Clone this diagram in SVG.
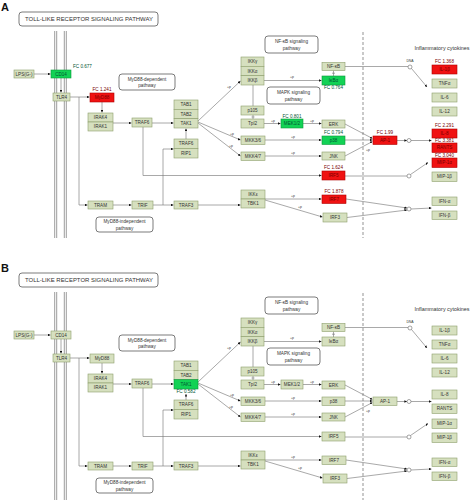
<svg xmlns="http://www.w3.org/2000/svg" width="474" height="500" viewBox="0 0 474 500">
<defs>
<style>
text{font-family:"Liberation Sans",Arial,sans-serif;fill:#333;text-anchor:middle}
.n rect,.g rect,.r rect{stroke-width:0.6}
.n rect{fill:#d6e0bf;stroke:#8c9e6c}
.g rect{fill:#12d255;stroke:#0a9a3a}
.r rect{fill:#f01212;stroke:#b00000}
.n text,.g text,.r text{font-size:4.6px}
.r text{fill:#700}
.g text{fill:#053}
.fc{font-size:3.2px;fill:#222}
.lb rect{fill:#fff;stroke:#444;stroke-width:0.7}
.lb text{font-size:4.7px;fill:#333}
.ttl{font-size:5.7px;fill:#333}
.c line,.c path,.c polyline{stroke:#7a7a7a;stroke-width:0.65;fill:none}
.c circle{fill:#fff;stroke:#666;stroke-width:0.6}
.a{marker-end:url(#ah)}
.p{font-size:3.4px;fill:#333}
.mem line{stroke:#8a8a8a;stroke-width:0.85}
.dash{stroke:#666;stroke-width:0.7;stroke-dasharray:3 2}
.pl{font-size:11px;font-weight:bold;fill:#111;text-anchor:start}
</style>
<marker id="ah" viewBox="0 0 6 6" refX="6" refY="3" markerWidth="2.6" markerHeight="2.6" orient="auto" markerUnits="userSpaceOnUse"><path d="M0,0 L6,3 L0,6z" fill="#111"/></marker>
</defs>
<rect width="474" height="500" fill="#fff"/>

<!-- ================= PANEL A ================= -->
<g id="panelA">
<text class="pl" x="1" y="11">A</text>
<g class="mem"><line x1="54.7" y1="31" x2="54.7" y2="238"/><line x1="56.7" y1="31" x2="56.7" y2="238"/><line x1="64.3" y1="31" x2="64.3" y2="238"/><line x1="66.3" y1="31" x2="66.3" y2="238"/></g>
<line class="dash" x1="363" y1="32" x2="363" y2="238"/>
<text x="442" y="50" style="font-size:5.4px">Inflammatory cytokines</text>

<g class="c" id="A-connectors">
<line class="a" x1="34" y1="74" x2="50.5" y2="74"/>
<line class="a" x1="61" y1="78" x2="61" y2="92.5"/>
<line class="a" x1="70" y1="97" x2="89.5" y2="97"/>
<path class="a" d="M79,97 V205 H87.5"/>
<line class="a" x1="102" y1="102" x2="102" y2="112.5"/>
<line class="a" x1="113" y1="123" x2="131.5" y2="123"/>
<line class="a" x1="152" y1="123" x2="173.5" y2="123"/>
<path class="a" d="M143,127 V175.5 H321.5"/>
<line class="a" x1="113" y1="205" x2="131.5" y2="205"/>
<line class="a" x1="153" y1="205" x2="173.5" y2="205"/>
<path class="a" d="M163,205 V149 H173.5"/>
<line class="a" x1="186" y1="139" x2="186" y2="128.5"/>
<line class="a" x1="198" y1="121" x2="240.5" y2="81"/>
<line class="a" x1="198" y1="122" x2="240.5" y2="140"/>
<line class="a" x1="198" y1="123" x2="240.5" y2="156"/>
<line class="a" x1="198" y1="205" x2="240.5" y2="205"/>
<line class="a" x1="264" y1="80.5" x2="321.5" y2="80.5"/>
<line x1="253" y1="85" x2="253" y2="106"/>
<line x1="253" y1="115" x2="253" y2="119"/><line x1="251.5" y1="117" x2="254.5" y2="117"/>
<line class="a" x1="264" y1="123.5" x2="280.5" y2="123.5"/>
<line class="a" x1="303" y1="123.5" x2="321.5" y2="123.5"/>
<line class="a" x1="265" y1="140" x2="321.5" y2="140"/>
<line class="a" x1="265" y1="156" x2="321.5" y2="156"/>
<line class="a" x1="265" y1="199" x2="321.5" y2="199"/>
<line class="a" x1="265" y1="200" x2="322.5" y2="217"/>
<line x1="333.5" y1="70.5" x2="333.5" y2="76"/><line x1="332" y1="73.2" x2="335" y2="73.2"/>
<line x1="345" y1="66.5" x2="408" y2="66.5"/>
<circle cx="410" cy="67" r="2"/>
<line class="a" x1="411.5" y1="68.5" x2="427" y2="87"/>
<line class="a" x1="345" y1="124" x2="372.5" y2="138.5"/>
<line class="a" x1="345" y1="140" x2="372.5" y2="140"/>
<line class="a" x1="345" y1="156" x2="372.5" y2="141.5"/>
<line class="a" x1="397" y1="140.5" x2="407" y2="140.5"/>
<circle cx="409" cy="140.5" r="2"/>
<line class="a" x1="411" y1="140.5" x2="431.5" y2="140.5"/>
<line x1="345" y1="176" x2="407" y2="176"/>
<circle cx="409" cy="176" r="2"/>
<line class="a" x1="410.5" y1="174.5" x2="428" y2="162.5"/>
<line class="a" x1="346" y1="199" x2="407" y2="208"/>
<line class="a" x1="347" y1="217.5" x2="407" y2="210"/>
<circle cx="409" cy="209" r="2"/>
<line class="a" x1="411" y1="209" x2="431.5" y2="208"/>
</g>
<g id="A-plabels">
<text class="p" x="229" y="88">+p</text>
<text class="p" x="232" y="135">+p</text>
<text class="p" x="231" y="147">+p</text>
<text class="p" x="292" y="78">+p</text>
<text class="p" x="273" y="122">+p</text>
<text class="p" x="312" y="122">+p</text>
<text class="p" x="293" y="138">+p</text>
<text class="p" x="293" y="154">+p</text>
<text class="p" x="293" y="197">+p</text>
<text class="p" x="300" y="208">+p</text>
<text class="p" x="368" y="151">+p</text>
<text class="p" x="410" y="62">DNA</text>
</g>

<g id="A-title" class="lb"><rect x="19" y="12" width="139" height="14" rx="3"/><text class="ttl" x="89" y="21" textLength="128" lengthAdjust="spacingAndGlyphs">TOLL-LIKE RECEPTOR SIGNALING PATHWAY</text></g>
<g id="A-myd88dep" class="lb"><rect x="119" y="74" width="56" height="16" rx="3"/><text x="147" y="81">MyD88-dependent</text><text x="147" y="87.3">pathway</text></g>
<g id="A-nfkbpw" class="lb"><rect x="265" y="36" width="53" height="17" rx="3"/><text x="291.5" y="43.3">NF-κB signaling</text><text x="291.5" y="49.6">pathway</text></g>
<g id="A-mapkpw" class="lb"><rect x="267" y="87" width="53" height="17" rx="3"/><text x="293.5" y="94.3">MAPK signaling</text><text x="293.5" y="100.6">pathway</text></g>
<g id="A-myd88indep" class="lb"><rect x="96" y="217" width="57" height="15" rx="3"/><text x="124.5" y="223.4">MyD88-independent</text><text x="124.5" y="229.6">pathway</text></g>

<g id="A-LPS" class="n"><rect x="14" y="70" width="20" height="8"/><text x="24" y="75.6">LPS(G-)</text></g>
<g id="A-CD14" class="g"><rect x="51" y="70" width="20" height="8"/><text x="61" y="75.6">CD14</text><text class="fc" x="73" y="68" style="text-anchor:start">FC 0.677</text></g>
<g id="A-TLR4" class="n"><rect x="53" y="93" width="17" height="8"/><text x="61.5" y="98.6">TLR4</text></g>
<g id="A-MyD88" class="r"><rect x="90" y="93" width="24" height="9"/><text x="102" y="99.1">MyD88</text><text class="fc" x="102" y="91">FC 1.241</text></g>
<g id="A-IRAK" class="n"><rect x="88" y="113" width="25" height="9"/><rect x="88" y="122" width="25" height="9"/><text x="100.5" y="119.1">IRAK4</text><text x="100.5" y="128.1">IRAK1</text></g>
<g id="A-TRAF6" class="n"><rect x="132" y="118" width="20" height="9"/><text x="142" y="124.1">TRAF6</text></g>
<g id="A-TAK" class="n"><rect x="174" y="100" width="24" height="9.3"/><rect x="174" y="109.3" width="24" height="9.3"/><rect x="174" y="118.6" width="24" height="9.4"/><text x="186" y="106.3">TAB1</text><text x="186" y="115.6">TAB2</text><text x="186" y="124.9">TAK1</text></g>
<g id="A-TRAF6RIP1" class="n"><rect x="174" y="139" width="24" height="9.5"/><rect x="174" y="148.5" width="24" height="9.5"/><text x="186" y="145.4">TRAF6</text><text x="186" y="154.9">RIP1</text></g>
<g id="A-TRAM" class="n"><rect x="88" y="201" width="25" height="8"/><text x="100.5" y="206.6">TRAM</text></g>
<g id="A-TRIF" class="n"><rect x="132" y="201" width="21" height="8"/><text x="142.5" y="206.6">TRIF</text></g>
<g id="A-TRAF3" class="n"><rect x="174" y="201" width="24" height="8"/><text x="186" y="206.6">TRAF3</text></g>
<g id="A-IKK" class="n"><rect x="241" y="57" width="23" height="9.3"/><rect x="241" y="66.3" width="23" height="9.3"/><rect x="241" y="75.6" width="23" height="9.4"/><text x="252.5" y="63.3">IKKγ</text><text x="252.5" y="72.6">IKKα</text><text x="252.5" y="81.9">IKKβ</text></g>
<g id="A-p105" class="n"><rect x="241" y="106" width="23" height="9"/><text x="252.5" y="112.1">p105</text></g>
<g id="A-Tpl2" class="n"><rect x="241" y="119" width="23" height="9"/><text x="252.5" y="125.1">Tpl2</text></g>
<g id="A-MEK12" class="g"><rect x="281" y="119" width="22" height="9"/><text x="292" y="125.1">MEK1/2</text><text class="fc" x="292" y="117.5">FC 0.801</text></g>
<g id="A-MKK36" class="n"><rect x="241" y="136" width="24" height="8.5"/><text x="253" y="141.9">MKK3/6</text></g>
<g id="A-MKK47" class="n"><rect x="241" y="152" width="24" height="8.5"/><text x="253" y="157.9">MKK4/7</text></g>
<g id="A-IKKe" class="n"><rect x="241" y="190" width="24" height="9"/><rect x="241" y="199" width="24" height="9"/><text x="253" y="196.1">IKKε</text><text x="253" y="205.1">TBK1</text></g>
<g id="A-NFkB" class="n"><rect x="322" y="62.5" width="23" height="8"/><text x="333.5" y="68.1">NF-κB</text></g>
<g id="A-IkBa" class="g"><rect x="322" y="76" width="23" height="9"/><text x="333.5" y="82.1">IκBα</text><text class="fc" x="333.5" y="89">FC 0.764</text></g>
<g id="A-ERK" class="n"><rect x="322" y="120" width="23" height="8"/><text x="333.5" y="125.6">ERK</text></g>
<g id="A-p38" class="g"><rect x="322" y="136" width="23" height="8.5"/><text x="333.5" y="141.9">p38</text><text class="fc" x="333.5" y="134.2">FC 0.794</text></g>
<g id="A-JNK" class="n"><rect x="322" y="152" width="23" height="8"/><text x="333.5" y="157.6">JNK</text></g>
<g id="A-AP1" class="r"><rect x="373" y="136" width="24" height="8.5"/><text x="385" y="141.9">AP-1</text><text class="fc" x="385" y="134.2">FC 1.99</text></g>
<g id="A-IRF5" class="r"><rect x="322" y="171" width="23" height="9"/><text x="333.5" y="177.1">IRF5</text><text class="fc" x="333.5" y="169.2">FC 1.624</text></g>
<g id="A-IRF7" class="r"><rect x="322" y="195" width="24" height="8.5"/><text x="334" y="200.9">IRF7</text><text class="fc" x="334" y="193.2">FC 1.878</text></g>
<g id="A-IRF3" class="n"><rect x="323" y="213" width="24" height="9"/><text x="335" y="219.1">IRF3</text></g>
<g id="A-IL1b" class="r"><rect x="432" y="65" width="25" height="9"/><text x="444.5" y="71.1">IL-1β</text><text class="fc" x="444.5" y="63.3">FC 1.368</text></g>
<g id="A-TNFa" class="n"><rect x="432" y="79" width="25" height="9"/><text x="444.5" y="85.1">TNFα</text></g>
<g id="A-IL6" class="n"><rect x="432" y="93" width="25" height="9"/><text x="444.5" y="99.1">IL-6</text></g>
<g id="A-IL12" class="n"><rect x="432" y="107" width="25" height="9"/><text x="444.5" y="113.1">IL-12</text></g>
<g id="A-IL8" class="r"><rect x="432" y="129" width="25" height="9"/><text x="444.5" y="135.1">IL-8</text><text class="fc" x="444.5" y="127.3">FC 2.291</text></g>
<g id="A-RANTS" class="r"><rect x="432" y="143" width="25" height="9.5"/><text x="444.5" y="149.4">RANTS</text><text class="fc" x="444.5" y="141.6">FC 3.381</text></g>
<g id="A-MIP1a" class="r"><rect x="432" y="158" width="25" height="9.5"/><text x="444.5" y="164.4">MIP-1α</text><text class="fc" x="444.5" y="156.6">FC 3.040</text></g>
<g id="A-MIP1b" class="n"><rect x="432" y="172" width="25" height="9.5"/><text x="444.5" y="178.4">MIP-1β</text></g>
<g id="A-IFNa" class="n"><rect x="432" y="197" width="25" height="8.5"/><text x="444.5" y="202.9">IFN-α</text></g>
<g id="A-IFNb" class="n"><rect x="432" y="211" width="25" height="8.5"/><text x="444.5" y="216.9">IFN-β</text></g>
</g>

<!-- ================= PANEL B ================= -->
<g id="panelB" transform="translate(0,261)">
<text class="pl" x="1" y="11">B</text>
<g class="mem"><line x1="54.7" y1="31" x2="54.7" y2="239"/><line x1="56.7" y1="31" x2="56.7" y2="239"/><line x1="64.3" y1="31" x2="64.3" y2="239"/><line x1="66.3" y1="31" x2="66.3" y2="239"/></g>
<line class="dash" x1="363" y1="32" x2="363" y2="239"/>
<text x="442" y="50" style="font-size:5.4px">Inflammatory cytokines</text>

<g class="c" id="B-connectors">
<line class="a" x1="34" y1="74" x2="50.5" y2="74"/>
<line class="a" x1="61" y1="78" x2="61" y2="92.5"/>
<line class="a" x1="70" y1="97" x2="89.5" y2="97"/>
<path class="a" d="M79,97 V205 H87.5"/>
<line class="a" x1="102" y1="102" x2="102" y2="112.5"/>
<line class="a" x1="113" y1="123" x2="131.5" y2="123"/>
<line class="a" x1="152" y1="123" x2="173.5" y2="123"/>
<path class="a" d="M143,127 V175.5 H321.5"/>
<line class="a" x1="113" y1="205" x2="131.5" y2="205"/>
<line class="a" x1="153" y1="205" x2="173.5" y2="205"/>
<path class="a" d="M163,205 V149 H173.5"/>
<line class="a" x1="186" y1="139" x2="186" y2="133"/>
<line class="a" x1="198" y1="121" x2="240.5" y2="81"/>
<line class="a" x1="198" y1="122" x2="240.5" y2="140"/>
<line class="a" x1="198" y1="123" x2="240.5" y2="156"/>
<line class="a" x1="198" y1="205" x2="240.5" y2="205"/>
<line class="a" x1="264" y1="80.5" x2="321.5" y2="80.5"/>
<line x1="253" y1="85" x2="253" y2="106"/>
<line x1="253" y1="115" x2="253" y2="119"/><line x1="251.5" y1="117" x2="254.5" y2="117"/>
<line class="a" x1="264" y1="123.5" x2="280.5" y2="123.5"/>
<line class="a" x1="303" y1="123.5" x2="321.5" y2="123.5"/>
<line class="a" x1="265" y1="140" x2="321.5" y2="140"/>
<line class="a" x1="265" y1="156" x2="321.5" y2="156"/>
<line class="a" x1="265" y1="199" x2="321.5" y2="199"/>
<line class="a" x1="265" y1="200" x2="322.5" y2="217"/>
<line x1="333.5" y1="70.5" x2="333.5" y2="76"/><line x1="332" y1="73.2" x2="335" y2="73.2"/>
<line x1="345" y1="66.5" x2="408" y2="66.5"/>
<circle cx="410" cy="67" r="2"/>
<line class="a" x1="411.5" y1="68.5" x2="427" y2="87"/>
<line class="a" x1="345" y1="124" x2="372.5" y2="138.5"/>
<line class="a" x1="345" y1="140" x2="372.5" y2="140"/>
<line class="a" x1="345" y1="156" x2="372.5" y2="141.5"/>
<line class="a" x1="397" y1="140.5" x2="407" y2="140.5"/>
<circle cx="409" cy="140.5" r="2"/>
<line class="a" x1="411" y1="140.5" x2="431.5" y2="140.5"/>
<line x1="345" y1="176" x2="407" y2="176"/>
<circle cx="409" cy="176" r="2"/>
<line class="a" x1="410.5" y1="174.5" x2="428" y2="162.5"/>
<line class="a" x1="346" y1="199" x2="407" y2="208"/>
<line class="a" x1="347" y1="217.5" x2="407" y2="210"/>
<circle cx="409" cy="209" r="2"/>
<line class="a" x1="411" y1="209" x2="431.5" y2="208"/>
</g>
<g id="B-plabels">
<text class="p" x="229" y="88">+p</text>
<text class="p" x="232" y="135">+p</text>
<text class="p" x="231" y="147">+p</text>
<text class="p" x="292" y="78">+p</text>
<text class="p" x="273" y="122">+p</text>
<text class="p" x="312" y="122">+p</text>
<text class="p" x="293" y="138">+p</text>
<text class="p" x="293" y="154">+p</text>
<text class="p" x="293" y="197">+p</text>
<text class="p" x="300" y="208">+p</text>
<text class="p" x="368" y="151">+p</text>
<text class="p" x="410" y="62">DNA</text>
</g>

<g id="B-title" class="lb"><rect x="19" y="12" width="139" height="14" rx="3"/><text class="ttl" x="89" y="21" textLength="128" lengthAdjust="spacingAndGlyphs">TOLL-LIKE RECEPTOR SIGNALING PATHWAY</text></g>
<g id="B-myd88dep" class="lb"><rect x="119" y="74" width="56" height="16" rx="3"/><text x="147" y="81">MyD88-dependent</text><text x="147" y="87.3">pathway</text></g>
<g id="B-nfkbpw" class="lb"><rect x="265" y="36" width="53" height="17" rx="3"/><text x="291.5" y="43.3">NF-κB signaling</text><text x="291.5" y="49.6">pathway</text></g>
<g id="B-mapkpw" class="lb"><rect x="267" y="87" width="53" height="17" rx="3"/><text x="293.5" y="94.3">MAPK signaling</text><text x="293.5" y="100.6">pathway</text></g>
<g id="B-myd88indep" class="lb"><rect x="96" y="217" width="57" height="15" rx="3"/><text x="124.5" y="223.4">MyD88-independent</text><text x="124.5" y="229.6">pathway</text></g>

<g id="B-LPS" class="n"><rect x="14" y="70" width="20" height="8"/><text x="24" y="75.6">LPS(G-)</text></g>
<g id="B-CD14" class="n"><rect x="51" y="70" width="20" height="8"/><text x="61" y="75.6">CD14</text></g>
<g id="B-TLR4" class="n"><rect x="53" y="93" width="17" height="8"/><text x="61.5" y="98.6">TLR4</text></g>
<g id="B-MyD88" class="n"><rect x="90" y="93" width="24" height="9"/><text x="102" y="99.1">MyD88</text></g>
<g id="B-IRAK" class="n"><rect x="88" y="113" width="25" height="9"/><rect x="88" y="122" width="25" height="9"/><text x="100.5" y="119.1">IRAK4</text><text x="100.5" y="128.1">IRAK1</text></g>
<g id="B-TRAF6" class="n"><rect x="132" y="118" width="20" height="9"/><text x="142" y="124.1">TRAF6</text></g>
<g id="B-TAB" class="n"><rect x="174" y="100" width="24" height="9.3"/><rect x="174" y="109.3" width="24" height="9.3"/><text x="186" y="106.3">TAB1</text><text x="186" y="115.6">TAB2</text></g>
<g id="B-TAK1" class="g"><rect x="174" y="118.6" width="24" height="9.4"/><text x="186" y="124.9">TAK1</text><text class="fc" x="186" y="131.5">FC 0.582</text></g>
<g id="B-TRAF6RIP1" class="n"><rect x="174" y="139" width="24" height="9.5"/><rect x="174" y="148.5" width="24" height="9.5"/><text x="186" y="145.4">TRAF6</text><text x="186" y="154.9">RIP1</text></g>
<g id="B-TRAM" class="n"><rect x="88" y="201" width="25" height="8"/><text x="100.5" y="206.6">TRAM</text></g>
<g id="B-TRIF" class="n"><rect x="132" y="201" width="21" height="8"/><text x="142.5" y="206.6">TRIF</text></g>
<g id="B-TRAF3" class="n"><rect x="174" y="201" width="24" height="8"/><text x="186" y="206.6">TRAF3</text></g>
<g id="B-IKK" class="n"><rect x="241" y="57" width="23" height="9.3"/><rect x="241" y="66.3" width="23" height="9.3"/><rect x="241" y="75.6" width="23" height="9.4"/><text x="252.5" y="63.3">IKKγ</text><text x="252.5" y="72.6">IKKα</text><text x="252.5" y="81.9">IKKβ</text></g>
<g id="B-p105" class="n"><rect x="241" y="106" width="23" height="9"/><text x="252.5" y="112.1">p105</text></g>
<g id="B-Tpl2" class="n"><rect x="241" y="119" width="23" height="9"/><text x="252.5" y="125.1">Tpl2</text></g>
<g id="B-MEK12" class="n"><rect x="281" y="119" width="22" height="9"/><text x="292" y="125.1">MEK1/2</text></g>
<g id="B-MKK36" class="n"><rect x="241" y="136" width="24" height="8.5"/><text x="253" y="141.9">MKK3/6</text></g>
<g id="B-MKK47" class="n"><rect x="241" y="152" width="24" height="8.5"/><text x="253" y="157.9">MKK4/7</text></g>
<g id="B-IKKe" class="n"><rect x="241" y="190" width="24" height="9"/><rect x="241" y="199" width="24" height="9"/><text x="253" y="196.1">IKKε</text><text x="253" y="205.1">TBK1</text></g>
<g id="B-NFkB" class="n"><rect x="322" y="62.5" width="23" height="8"/><text x="333.5" y="68.1">NF-κB</text></g>
<g id="B-IkBa" class="n"><rect x="322" y="76" width="23" height="9"/><text x="333.5" y="82.1">IκBα</text></g>
<g id="B-ERK" class="n"><rect x="322" y="120" width="23" height="8"/><text x="333.5" y="125.6">ERK</text></g>
<g id="B-p38" class="n"><rect x="322" y="136" width="23" height="8.5"/><text x="333.5" y="141.9">p38</text></g>
<g id="B-JNK" class="n"><rect x="322" y="152" width="23" height="8"/><text x="333.5" y="157.6">JNK</text></g>
<g id="B-AP1" class="n"><rect x="373" y="136" width="24" height="8.5"/><text x="385" y="141.9">AP-1</text></g>
<g id="B-IRF5" class="n"><rect x="322" y="171" width="23" height="9"/><text x="333.5" y="177.1">IRF5</text></g>
<g id="B-IRF7" class="n"><rect x="322" y="195" width="24" height="8.5"/><text x="334" y="200.9">IRF7</text></g>
<g id="B-IRF3" class="n"><rect x="323" y="213" width="24" height="9"/><text x="335" y="219.1">IRF3</text></g>
<g id="B-IL1b" class="n"><rect x="432" y="65" width="25" height="9"/><text x="444.5" y="71.1">IL-1β</text></g>
<g id="B-TNFa" class="n"><rect x="432" y="79" width="25" height="9"/><text x="444.5" y="85.1">TNFα</text></g>
<g id="B-IL6" class="n"><rect x="432" y="93" width="25" height="9"/><text x="444.5" y="99.1">IL-6</text></g>
<g id="B-IL12" class="n"><rect x="432" y="107" width="25" height="9"/><text x="444.5" y="113.1">IL-12</text></g>
<g id="B-IL8" class="n"><rect x="432" y="129" width="25" height="9"/><text x="444.5" y="135.1">IL-8</text></g>
<g id="B-RANTS" class="n"><rect x="432" y="143" width="25" height="9.5"/><text x="444.5" y="149.4">RANTS</text></g>
<g id="B-MIP1a" class="n"><rect x="432" y="158" width="25" height="9.5"/><text x="444.5" y="164.4">MIP-1α</text></g>
<g id="B-MIP1b" class="n"><rect x="432" y="172" width="25" height="9.5"/><text x="444.5" y="178.4">MIP-1β</text></g>
<g id="B-IFNa" class="n"><rect x="432" y="197" width="25" height="8.5"/><text x="444.5" y="202.9">IFN-α</text></g>
<g id="B-IFNb" class="n"><rect x="432" y="211" width="25" height="8.5"/><text x="444.5" y="216.9">IFN-β</text></g>
</g>
</svg>
